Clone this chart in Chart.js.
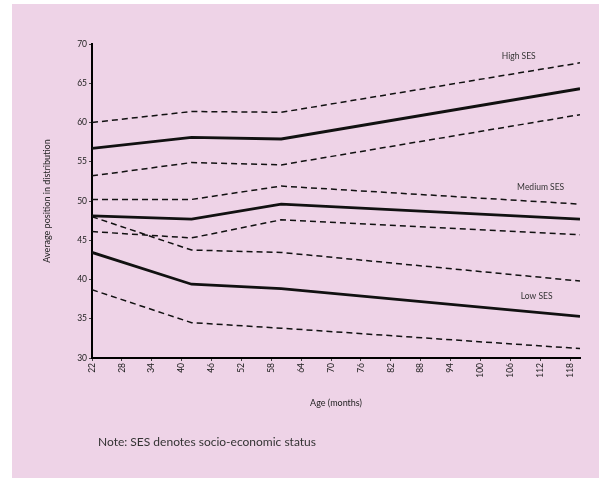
<!DOCTYPE html>
<html>
<head>
<meta charset="utf-8">
<script src="https://cdn.jsdelivr.net/npm/chart.js@4"></script>
<style>
  html, body { margin: 0; padding: 0; background: #fff; }
  body { width: 599px; height: 479px; position: relative; overflow: hidden; font-family: Lato, "Open Sans", sans-serif; }
  #panel { position: absolute; left: 12px; top: 4px; width: 587px; height: 474px; background: #EED3E7; }
  #chart { position: absolute; left: 0; top: 0; }
  #note { position: absolute; left: 98px; top: 434px; font-size: 12px; color: #333; white-space: nowrap; }
</style>
</head>
<body>
<div id="panel"></div>
<canvas id="chart" width="599" height="479"></canvas>
<div id="note">Note: SES denotes socio-economic status</div>
<script>
// age in months where the estimates are given
const ages = [22, 42, 60, 120];

const highMean = [56.7, 58.1, 57.9, 64.3];
const highUpper = [60.0, 61.4, 61.3, 67.6];
const highLower = [53.2, 54.9, 54.6, 61.0];

const mediumMean = [48.1, 47.7, 49.6, 47.7];
const mediumUpper = [50.2, 50.2, 51.9, 49.6];
const mediumLower = [46.1, 45.3, 47.6, 45.7];

const lowMean = [43.45, 39.4, 38.85, 35.3];
const lowUpper = [48.0, 43.75, 43.45, 39.8];
const lowLower = [38.7, 34.5, 33.8, 31.2];

const xTicks = [22, 28, 34, 40, 46, 52, 58, 64, 70, 76, 82, 88, 94, 100, 106, 112, 118];
const yTicks = [30, 35, 40, 45, 50, 55, 60, 65, 70];

// series labels, placed in data units
const labelNames = ['High SES', 'Medium SES', 'Low SES'];
const labelAges = [107.7, 112.1, 111.3];
const labelValues = [68.5, 51.8, 37.9];

const toPoints = values => values.map((v, i) => ({ x: ages[i], y: v }));

function solid(values) {
    return {
        data: toPoints(values),
        borderColor: '#111',
        borderWidth: 2.8,
        pointRadius: 0,
        tension: 0,
        fill: false
    };
}

function dashed(values) {
    return {
        data: toPoints(values),
        borderColor: '#111',
        borderWidth: 1.5,
        borderDash: [6, 4],
        pointRadius: 0,
        tension: 0,
        fill: false
    };
}

const seriesLabels = {
    id: 'seriesLabels',
    afterDatasetsDraw(chart) {
        const ctx = chart.ctx;
        const xs = chart.scales.x;
        const ys = chart.scales.y;
        ctx.save();
        ctx.font = '8.5px Lato, "Open Sans", sans-serif';
        ctx.fillStyle = '#333';
        ctx.textAlign = 'center';
        ctx.textBaseline = 'middle';
        labelNames.forEach((name, i) => {
            ctx.fillText(name, xs.getPixelForValue(labelAges[i]), ys.getPixelForValue(labelValues[i]));
        });
        ctx.restore();
    }
};

const tickFont = { family: 'Lato, "Open Sans", sans-serif', size: 8.5 };
const titleFont = { family: 'Lato, "Open Sans", sans-serif', size: 9 };

new Chart(document.getElementById('chart'), {
    type: 'line',
    data: {
        datasets: [
            dashed(highUpper), solid(highMean), dashed(highLower),
            dashed(mediumUpper), solid(mediumMean), dashed(mediumLower),
            dashed(lowUpper), solid(lowMean), dashed(lowLower)
        ]
    },
    options: {
        responsive: false,
        devicePixelRatio: 1,
        animation: false,
        layout: {
            padding: { top: 44, right: 19, left: 38, bottom: 67 }
        },
        plugins: {
            legend: { display: false },
            tooltip: { enabled: false }
        },
        scales: {
            x: {
                type: 'linear',
                min: 22,
                max: 120,
                afterBuildTicks: axis => { axis.ticks = xTicks.map(v => ({ value: v })); },
                afterFit: axis => { axis.height = 54; },
                border: { color: '#000', width: 2 },
                grid: { drawOnChartArea: false, tickLength: 3, color: '#444', tickWidth: 1 },
                ticks: { color: '#222', font: tickFont, minRotation: 90, maxRotation: 90, padding: 2, autoSkip: false },
                title: { display: true, text: 'Age (months)', color: '#222', font: titleFont }
            },
            y: {
                min: 30,
                max: 70,
                afterBuildTicks: axis => { axis.ticks = yTicks.map(v => ({ value: v })); },
                afterFit: axis => { axis.width = 54; },
                border: { color: '#000', width: 2 },
                grid: { drawOnChartArea: false, tickLength: 3, color: '#444', tickWidth: 1 },
                ticks: { color: '#222', font: tickFont, padding: 2 },
                title: { display: true, text: 'Average position in distribution', color: '#222', font: titleFont }
            }
        }
    },
    plugins: [seriesLabels]
});
</script>
</body>
</html>
